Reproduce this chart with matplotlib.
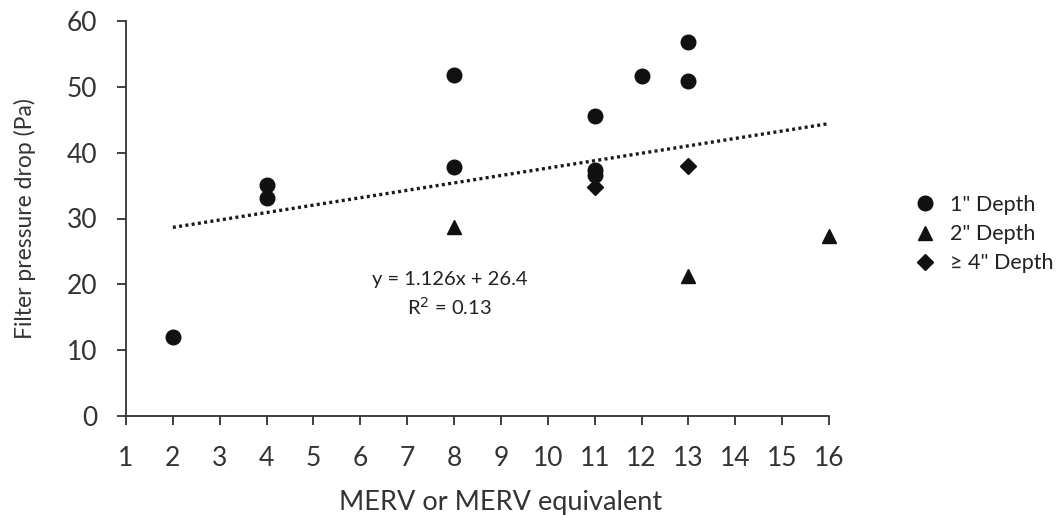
import matplotlib
matplotlib.use("Agg")
import matplotlib.pyplot as plt
import numpy as np

plt.rcParams['font.family'] = ['Lato', 'DejaVu Sans']

# Data
x_1in = [2, 4, 4, 8, 8, 11, 11, 11, 12, 13, 13]
y_1in = [12, 35.1, 33.1, 51.8, 37.8, 45.6, 37.3, 36.6, 51.7, 56.8, 50.9]
x_2in = [8, 13, 16]
y_2in = [28.7, 21.3, 27.4]
x_4in = [11, 13]
y_4in = [34.8, 37.9]

slope = 1.126
intercept = 26.4
trend_x = [2, 16]
eq_text = "y = 1.126x + 26.4"
r2_text = "R$^2$ = 0.13"

xticks = list(range(1, 17))
yticks = [0, 10, 20, 30, 40, 50, 60]

W, H = 1062, 515
L, R, T, B = 126, 829, 21, 416
fig = plt.figure(figsize=(W/100, H/100), dpi=100)
ax = fig.add_axes([L/W, 1-B/H, (R-L)/W, (B-T)/H])

tx = np.array(trend_x, dtype=float)
ax.plot(tx, slope*tx + intercept, color='#1a1a1a', lw=2.4,
        linestyle=(0, (0.9, 1.0)), zorder=2)

ax.plot(x_1in, y_1in, 'o', color='#111111', ms=10.5, mec='#111111',
        label='1" Depth', zorder=3, clip_on=False)
ax.plot(x_2in, y_2in, '^', color='#111111', ms=10, mec='#111111',
        label='2" Depth', zorder=3, clip_on=False)
ax.plot(x_4in, y_4in, 'D', color='#111111', ms=8, mec='#111111',
        label='≥ 4" Depth', zorder=3, clip_on=False)

ax.set_xlim(1, 16)
ax.set_ylim(0, 60)
ax.set_xticks(xticks)
ax.set_yticks(yticks)
for s in ['top', 'right']:
    ax.spines[s].set_visible(False)
for s in ['left', 'bottom']:
    ax.spines[s].set_linewidth(1.3)
    ax.spines[s].set_color('#333333')
ax.tick_params(direction='out', length=6.5, width=1.3, color='#333333',
               labelsize=19, labelcolor='#333333')
ax.tick_params(axis='x', pad=15)
ax.tick_params(axis='y', pad=14)

ax.set_xlabel('MERV or MERV equivalent', fontsize=19.5, color='#333333')
ax.xaxis.set_label_coords((501-L)/(R-L), -0.187)
ax.set_ylabel('Filter pressure drop (Pa)', fontsize=16.5, color='#333333')
ax.yaxis.set_label_coords(-(L-25)/(R-L), 0.5)
ax.yaxis.label.set_va('center')

ax.text(7.9, 20.7, eq_text, ha='center', va='center', fontsize=14.5, color='#222222')
ax.text(7.9, 16.6, r2_text, ha='center', va='center', fontsize=14.5, color='#222222')

leg = ax.legend(loc='upper left', bbox_to_anchor=((914-L)/(R-L), (B-195)/(B-T)),
                frameon=False, fontsize=15.5, handlelength=1.0, handletextpad=0.65,
                labelspacing=0.42, borderaxespad=0, borderpad=0)
for t in leg.get_texts():
    t.set_color('#222222')

fig.savefig('out.png', dpi=100)
